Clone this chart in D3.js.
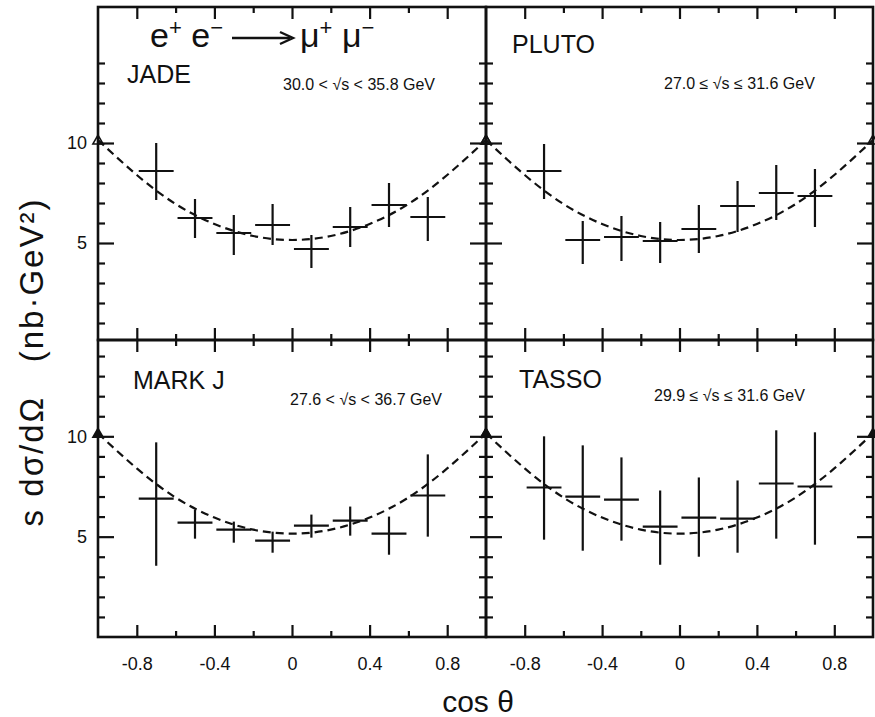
<!DOCTYPE html>
<html lang="en">

<head>
  <title>e+e- to mu+mu- angular distributions</title>
  <script src="https://cdn.jsdelivr.net/npm/d3@7/dist/d3.min.js"></script>
  <style>
    body { margin: 0; background: #fff; }
    text { font-family: "Liberation Sans", Arial, sans-serif; fill: #111; }
    .tick line { stroke: #111; stroke-width: 2.2; }
    .tick text { font-size: 18px; }
  </style>
</head>

<body>
  <script>
    // cos(theta) bin centres, shared by all four experiments
    var cosBins = [-0.7, -0.5, -0.3, -0.1, 0.1, 0.3, 0.5, 0.7];
    var binHalf = 0.09;

    var jadeVal = [8.6, 6.25, 5.5, 5.9, 4.7, 5.8, 6.9, 6.3];
    var jadeHi  = [10.0, 7.2, 6.4, 6.95, 5.4, 6.8, 8.0, 7.3];
    var jadeLo  = [7.15, 5.25, 4.4, 4.9, 3.75, 4.8, 5.8, 5.1];

    var plutoVal = [8.6, 5.15, 5.3, 5.1, 5.7, 6.85, 7.5, 7.35];
    var plutoHi  = [9.95, 6.1, 6.35, 6.05, 6.9, 8.1, 8.9, 8.7];
    var plutoLo  = [7.2, 3.95, 4.1, 4.0, 4.5, 5.55, 6.15, 5.8];

    var markjVal = [6.9, 5.7, 5.35, 4.8, 5.55, 5.8, 5.15, 7.05];
    var markjHi  = [9.7, 6.35, 5.75, 5.25, 6.1, 6.5, 6.0, 9.1];
    var markjLo  = [3.55, 4.9, 4.7, 4.2, 4.95, 5.05, 4.1, 5.0];

    var tassoVal = [7.45, 7.0, 6.85, 5.5, 5.95, 5.9, 7.65, 7.5];
    var tassoHi  = [10.0, 9.55, 8.95, 7.3, 7.95, 7.8, 10.3, 10.2];
    var tassoLo  = [4.85, 4.3, 4.8, 3.6, 4.0, 4.2, 4.9, 4.6];

    // QED expectation
    var qedCos = [-1, -0.8, -0.6, -0.4, -0.2, 0, 0.2, 0.4, 0.6, 0.8, 1];
    var qedVal = [10.15, 8.4, 6.95, 5.95, 5.35, 5.15, 5.35, 5.95, 6.95, 8.4, 10.15];

    var xMajor = [-0.8, -0.4, 0, 0.4, 0.8];
    var xMinor = [-0.6, -0.2, 0.2, 0.6];
    var yMajor = [5, 10];
    var yMinor = [1, 2, 3, 4, 6, 7, 8, 9, 11, 12, 13, 14];

    var w = 875;
    var h = 717;

    var svg = d3.select("body").append("svg")
                .attr("width", w)
                .attr("height", h);

    var cols = [[98, 486], [486, 873]];
    var rows = [{ px: [340, 7], dom: [0.15, 16.8] }, { px: [637, 340], dom: [0, 14.8] }];

    var panels = [
      { name: "JADE", energy: "30.0 < \u221As < 35.8 GeV", col: 0, row: 0,
        val: jadeVal, hi: jadeHi, lo: jadeLo,
        nameAt: [127, 83], energyAt: [283, 90] },
      { name: "PLUTO", energy: "27.0 \u2264 \u221As \u2264 31.6 GeV", col: 1, row: 0,
        val: plutoVal, hi: plutoHi, lo: plutoLo,
        nameAt: [512, 53], energyAt: [664, 89] },
      { name: "MARK J", energy: "27.6 < \u221As < 36.7 GeV", col: 0, row: 1,
        val: markjVal, hi: markjHi, lo: markjLo,
        nameAt: [133, 389], energyAt: [290, 405] },
      { name: "TASSO", energy: "29.9 \u2264 \u221As \u2264 31.6 GeV", col: 1, row: 1,
        val: tassoVal, hi: tassoHi, lo: tassoLo,
        nameAt: [519, 388], energyAt: [654, 401] }
    ];

    function xLabel(d) {
      if (d === 0) return "0";
      return (d < 0 ? "-" : "") + Math.abs(d).toFixed(1);
    }

    function addTicks(g, axis, values, size, transform) {
      g.append("g")
       .attr("transform", transform)
       .call(axis.tickValues(values).tickSize(size).tickFormat(""))
       .call(function (sel) { sel.select(".domain").remove(); });
    }

    panels.forEach(function (p) {
      var x = d3.scaleLinear().domain([-1, 1]).range(cols[p.col]);
      var y = d3.scaleLinear().domain(rows[p.row].dom).range(rows[p.row].px);
      var x0 = cols[p.col][0], x1 = cols[p.col][1];
      var yb = rows[p.row].px[0], yt = rows[p.row].px[1];
      var g = svg.append("g").classed("panel", true);

      // inward ticks on all four sides
      addTicks(g, d3.axisTop(x), xMajor, 12, "translate(0," + yb + ")");
      addTicks(g, d3.axisTop(x), xMinor, 6, "translate(0," + yb + ")");
      addTicks(g, d3.axisBottom(x), xMajor, 12, "translate(0," + yt + ")");
      addTicks(g, d3.axisBottom(x), xMinor, 6, "translate(0," + yt + ")");
      addTicks(g, d3.axisRight(y), yMajor, 16, "translate(" + x0 + ",0)");
      addTicks(g, d3.axisRight(y), yMinor, 7, "translate(" + x0 + ",0)");
      addTicks(g, d3.axisLeft(y), yMajor, 16, "translate(" + x1 + ",0)");
      addTicks(g, d3.axisLeft(y), yMinor, 7, "translate(" + x1 + ",0)");

      g.append("rect")
       .attr("x", x0)
       .attr("y", yt)
       .attr("width", x1 - x0)
       .attr("height", yb - yt)
       .style("fill", "none")
       .style("stroke", "#111")
       .style("stroke-width", 2.6);

      // tick labels
      if (p.col === 0) {
        g.append("g")
         .attr("transform", "translate(" + x0 + ",0)")
         .call(d3.axisLeft(y).tickValues(yMajor).tickSize(0).tickPadding(11))
         .call(function (sel) { sel.select(".domain").remove(); });
      }
      if (p.row === 1) {
        g.append("g")
         .attr("transform", "translate(0," + yb + ")")
         .call(d3.axisBottom(x).tickValues(xMajor).tickSize(0).tickPadding(20).tickFormat(xLabel))
         .call(function (sel) { sel.select(".domain").remove(); });
      }

      // QED curve
      var line = d3.line()
                   .x(function (d, i) { return x(qedCos[i]); })
                   .y(function (d) { return y(d); })
                   .curve(d3.curveNatural);
      g.append("path")
       .datum(qedVal)
       .attr("d", line)
       .style("fill", "none")
       .style("stroke", "#111")
       .style("stroke-width", 2.2)
       .style("stroke-dasharray", "8,5");

      // end markers of the curve
      g.selectAll(".endmark")
       .data([qedCos[0], qedCos[qedCos.length - 1]])
       .enter()
         .append("path")
         .classed("endmark", true)
         .attr("transform", function (d, i) {
           return "translate(" + x(d) + "," + (y(qedVal[i === 0 ? 0 : qedVal.length - 1]) + 1) + ")";
         })
         .attr("d", d3.symbol().type(d3.symbolTriangle).size(45))
         .style("fill", p.row === 1 ? "#111" : "none")
         .style("stroke", "#111")
         .style("stroke-width", 1.6);

      // data crosses
      var pts = cosBins.map(function (c, i) {
        return { c: c, v: p.val[i], hi: p.hi[i], lo: p.lo[i] };
      });
      var cross = g.selectAll(".pt")
                   .data(pts)
                   .enter()
                     .append("g")
                     .classed("pt", true);
      cross.append("line")
           .attr("x1", function (d) { return x(d.c); })
           .attr("x2", function (d) { return x(d.c); })
           .attr("y1", function (d) { return y(d.hi); })
           .attr("y2", function (d) { return y(d.lo); });
      cross.append("line")
           .attr("x1", function (d) { return x(d.c - binHalf); })
           .attr("x2", function (d) { return x(d.c + binHalf); })
           .attr("y1", function (d) { return y(d.v); })
           .attr("y2", function (d) { return y(d.v); });
      cross.selectAll("line")
           .style("stroke", "#111")
           .style("stroke-width", 2.2);

      g.append("text")
       .attr("x", p.nameAt[0])
       .attr("y", p.nameAt[1])
       .style("font-size", "25px")
       .text(p.name);
      g.append("text")
       .attr("x", p.energyAt[0])
       .attr("y", p.energyAt[1])
       .style("font-size", "16px")
       .text(p.energy);
    });

    // reaction title
    var title = svg.append("g");
    var lhs = title.append("text")
                   .attr("x", 150)
                   .attr("y", 47)
                   .style("font-size", "34px");
    lhs.append("tspan").text("e");
    lhs.append("tspan").attr("dy", -12).style("font-size", "22px").text("+");
    lhs.append("tspan").attr("dy", 12).text(" e");
    lhs.append("tspan").attr("dy", -12).style("font-size", "22px").text("\u2212");
    var rhs = title.append("text")
                   .attr("x", 300)
                   .attr("y", 47)
                   .style("font-size", "34px");
    rhs.append("tspan").text("\u03bc");
    rhs.append("tspan").attr("dy", -12).style("font-size", "22px").text("+");
    rhs.append("tspan").attr("dy", 12).text(" \u03bc");
    rhs.append("tspan").attr("dy", -12).style("font-size", "22px").text("\u2212");
    title.append("line")
         .attr("x1", 232).attr("x2", 290)
         .attr("y1", 38).attr("y2", 38)
         .style("stroke", "#111")
         .style("stroke-width", 2.4);
    title.append("path")
         .attr("d", "M280,32 L293,38 L280,44")
         .style("fill", "none")
         .style("stroke", "#111")
         .style("stroke-width", 2.4);

    // axis titles
    svg.append("text")
       .attr("transform", "translate(43,362) rotate(-90)")
       .attr("text-anchor", "middle")
       .style("font-size", "33px")
       .style("letter-spacing", "2px")
       .style("white-space", "pre")
       .text("s d\u03c3/d\u03a9   (nb\u00b7GeV\u00b2)");
    svg.append("text")
       .attr("x", 478)
       .attr("y", 712)
       .attr("text-anchor", "middle")
       .style("font-size", "30px")
       .text("cos \u03b8");
  </script>
</body>

</html>
